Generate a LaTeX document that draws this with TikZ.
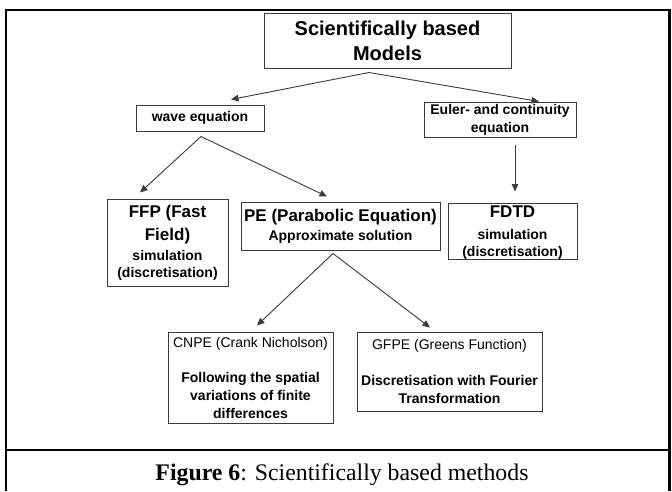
\documentclass[tikz,border=0pt]{standalone}
\usepackage{fontspec}
\setmainfont{Liberation Serif}
\setsansfont{Liberation Sans}
\usepackage{tikz}
\usetikzlibrary{arrows.meta, calc, positioning}
\usepackage{xcolor}
\definecolor{boxgray}{HTML}{3A3A3A}
\newcommand{\headsize}{\fontsize{17}{21}\selectfont}
\newcommand{\textsz}{\fontsize{14}{17}\selectfont}

\begin{document}
\begin{tikzpicture}[x=1pt, y=-1pt,
    box/.style={draw=boxgray, line width=1pt, fill=white, inner sep=0pt, align=center,
      font=\sffamily\bfseries\fontsize{14}{17}\selectfont},
    arr/.style={draw=boxgray, line width=0.9pt, -{Triangle[length=7.5pt, width=6.5pt]}},
    frame/.style={line width=2.2pt, black}]
  \useasboundingbox (0,0) rectangle (672,491);

  % frame
  \draw[frame] (6,491) -- (6,10) -- (669.5,10) -- (669.5,491);
  \draw[frame] (6,450) -- (669.5,450);

  % top
  \node[box, minimum width=247pt, minimum height=55pt,
    font=\sffamily\bfseries\fontsize{20}{25}\selectfont] (title) at (387.5,40.5)
    {Scientifically based\\Models};

  % second row
  \node[box, minimum width=128pt, minimum height=26pt] (wave) at (200,118) {wave equation};
  \node[box, minimum width=152pt, minimum height=35pt,
    font=\sffamily\bfseries\fontsize{14}{18}\selectfont] (euler) at (500,119.5)
    {Euler- and continuity\\equation};

  % third row
  \node[box, minimum width=121pt, minimum height=87pt] (ffp) at (167.5,242.5)
    {\headsize FFP (Fast\\[6pt]\headsize Field)\\[3pt]\textsz simulation\\\textsz (discretisation)};
  \node[box, minimum width=199pt, minimum height=48pt] (pe) at (340.5,226)
    {\headsize PE (Parabolic Equation)\\[2pt]\textsz Approximate solution};
  \node[box, minimum width=129pt, minimum height=56pt, text depth=-9pt] (fdtd) at (512.5,231)
    {\headsize FDTD\\[5pt]\textsz simulation\\\textsz (discretisation)};

  % bottom row
  \node[box, minimum width=165pt, minimum height=91pt,
    font=\sffamily\fontsize{14}{17.75}\selectfont] (cnpe) at (250.5,377.5)
    {CNPE (Crank Nicholson)\\[17.75pt]\bfseries Following the spatial\\\bfseries variations of finite\\\bfseries differences};
  \node[box, minimum width=185pt, minimum height=79pt,
    font=\sffamily\fontsize{14}{17.75}\selectfont] (gfpe) at (449.5,371.5)
    {GFPE (Greens Function)\\[17.75pt]\bfseries Discretisation with Fourier\\\bfseries Transformation};

  % splits
  \coordinate (tsplit) at ([xshift=-18.5pt, yshift=-4pt]title.south);
  \coordinate (wsplit) at ([xshift=1pt, yshift=-5pt]wave.south);
  \coordinate (psplit) at ([xshift=-7.5pt, yshift=-3pt]pe.south);

  % arrows
  \draw[arr] (tsplit) -- ([xshift=31pt, yshift=5pt]wave.north);
  \draw[arr] (tsplit) -- ([xshift=39pt]euler.north);
  \draw[arr] (wsplit) -- ([xshift=-27.5pt, yshift=6pt]ffp.north);
  \draw[arr] (wsplit) -- ([xshift=-13.5pt, yshift=5pt]pe.north);
  \draw[arr] ([xshift=15pt, yshift=-7pt]euler.south) -- ([xshift=2.5pt, yshift=11pt]fdtd.north);
  \draw[arr] (psplit) -- ([xshift=6.5pt, yshift=6pt]cnpe.north);
  \draw[arr] (psplit) -- ([xshift=-19.5pt, yshift=4pt]gfpe.north);

  % caption
  \node[font=\fontsize{23.8}{28}\selectfont, inner sep=0pt, anchor=base] (caption) at (342,480)
    {\textbf{Figure 6}: Scientifically based methods};
\end{tikzpicture}
\end{document}
